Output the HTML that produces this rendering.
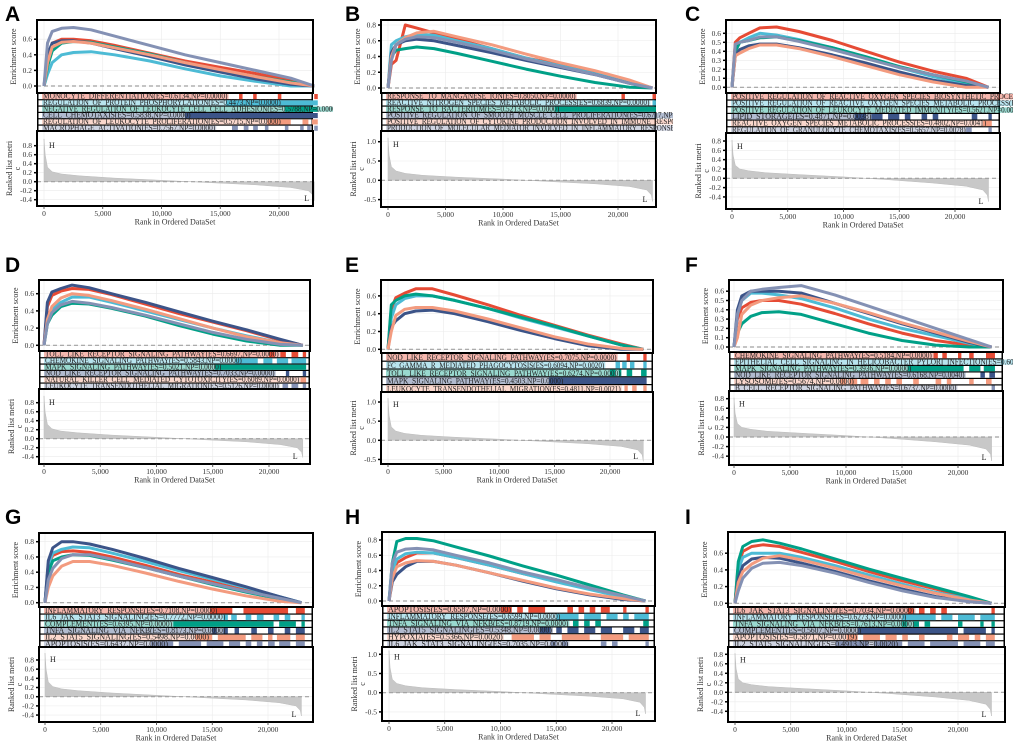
<!DOCTYPE html>
<html><head><meta charset="utf-8">
<style>
html,body{margin:0;padding:0;background:#fff;}
svg{display:block;}
text{font-family:"Liberation Serif",serif;}
</style></head>
<body>
<svg id="fig" width="1020" height="745" viewBox="0 0 1020 745" xmlns="http://www.w3.org/2000/svg"></svg>
<script>
// ---------- DATA ----------
const ranks = [0,300,700,1500,2500,4000,6000,9000,12000,15000,18000,21000,23000];
const metricRanks = [0,100,300,700,1500,3000,6000,10000,14000,18000,21000,22500,22900,23000];
const metricA = [0.95,0.6,0.32,0.22,0.17,0.13,0.08,0.03,-0.02,-0.07,-0.13,-0.2,-0.3,-0.42];
const metricB = [1.1,0.65,0.35,0.24,0.18,0.13,0.08,0.03,-0.03,-0.09,-0.16,-0.25,-0.38,-0.55];
const metricC = [0.82,0.5,0.28,0.2,0.16,0.12,0.08,0.03,-0.03,-0.1,-0.17,-0.25,-0.36,-0.5];
const xTicks = [0,5000,10000,15000,20000];
const xTickLabels = ["0","5,000","10,000","15,000","20,000"];
const palette = ["#e64b35","#4dbbd5","#00a087","#3c5488","#f39b7f","#8491b4"];

const esA = [
 [0,0.3,0.55,0.6,0.6,0.58,0.52,0.42,0.32,0.24,0.16,0.07,0],
 [0,0.15,0.3,0.4,0.43,0.44,0.4,0.32,0.22,0.13,0.06,0.0,0],
 [0,0.25,0.45,0.55,0.57,0.56,0.5,0.41,0.3,0.2,0.12,0.05,0],
 [0,0.4,0.55,0.58,0.58,0.55,0.48,0.38,0.27,0.18,0.09,0.02,0],
 [0,0.3,0.5,0.56,0.57,0.55,0.49,0.4,0.3,0.21,0.12,0.04,0],
 [0,0.55,0.7,0.74,0.75,0.72,0.64,0.52,0.4,0.3,0.2,0.1,0]];
const esB = [
 [0,0.3,0.35,0.8,0.76,0.7,0.62,0.5,0.38,0.3,0.2,0.08,0],
 [0,0.55,0.6,0.65,0.68,0.67,0.6,0.5,0.38,0.28,0.18,0.08,0],
 [0,0.4,0.48,0.5,0.52,0.5,0.44,0.34,0.24,0.15,0.07,0.01,0],
 [0,0.45,0.55,0.6,0.62,0.6,0.54,0.45,0.35,0.26,0.17,0.06,0],
 [0,0.4,0.55,0.64,0.7,0.72,0.65,0.55,0.43,0.32,0.22,0.1,0],
 [0,0.35,0.55,0.62,0.65,0.64,0.58,0.48,0.37,0.27,0.17,0.06,0]];
const esC = [
 [0,0.5,0.55,0.6,0.66,0.67,0.62,0.52,0.4,0.28,0.18,0.1,0],
 [0,0.45,0.5,0.55,0.6,0.58,0.53,0.44,0.33,0.22,0.12,0.04,0],
 [0,0.4,0.5,0.52,0.55,0.56,0.52,0.44,0.34,0.23,0.14,0.06,0],
 [0,0.35,0.42,0.46,0.48,0.48,0.44,0.36,0.27,0.17,0.08,0.02,0],
 [0,0.35,0.38,0.43,0.47,0.47,0.43,0.34,0.24,0.14,0.06,0.0,0],
 [0,0.48,0.5,0.52,0.56,0.56,0.51,0.42,0.32,0.22,0.14,0.07,0]];
const esD = [
 [0,0.45,0.58,0.63,0.66,0.65,0.59,0.48,0.37,0.27,0.17,0.06,0],
 [0,0.3,0.42,0.5,0.56,0.56,0.5,0.4,0.3,0.2,0.11,0.03,0],
 [0,0.25,0.35,0.45,0.49,0.48,0.43,0.34,0.23,0.13,0.05,0,0],
 [0,0.5,0.62,0.66,0.7,0.67,0.6,0.5,0.39,0.28,0.18,0.07,0],
 [0,0.3,0.45,0.55,0.6,0.58,0.52,0.42,0.31,0.2,0.1,0.03,0],
 [0,0.25,0.38,0.47,0.51,0.49,0.44,0.35,0.25,0.15,0.07,0.01,0]];
const esE = [
 [0,0.45,0.58,0.63,0.68,0.68,0.61,0.5,0.38,0.27,0.16,0.06,0],
 [0,0.35,0.5,0.57,0.6,0.6,0.55,0.46,0.35,0.25,0.15,0.05,0],
 [0,0.5,0.55,0.6,0.62,0.6,0.55,0.46,0.36,0.26,0.15,0.05,0],
 [0,0.25,0.32,0.4,0.43,0.44,0.4,0.31,0.21,0.12,0.04,0,0],
 [0,0.2,0.38,0.45,0.47,0.47,0.43,0.34,0.24,0.14,0.06,0.01,0]];
const esF = [
 [0,0.3,0.42,0.48,0.5,0.5,0.46,0.36,0.25,0.15,0.07,0.02,0],
 [0,0.35,0.5,0.58,0.58,0.56,0.52,0.42,0.3,0.2,0.12,0.04,0],
 [0,0.15,0.25,0.33,0.37,0.38,0.35,0.25,0.15,0.07,0.02,0,0],
 [0,0.4,0.55,0.6,0.6,0.6,0.58,0.47,0.36,0.25,0.15,0.05,0],
 [0,0.1,0.35,0.45,0.5,0.53,0.55,0.47,0.37,0.26,0.16,0.06,0],
 [0,0.35,0.5,0.6,0.62,0.64,0.66,0.56,0.44,0.32,0.2,0.08,0]];
const esG = [
 [0,0.5,0.62,0.67,0.68,0.66,0.6,0.49,0.37,0.27,0.16,0.06,0],
 [0,0.5,0.65,0.7,0.73,0.72,0.65,0.54,0.42,0.31,0.2,0.08,0],
 [0,0.4,0.55,0.6,0.63,0.62,0.56,0.46,0.35,0.24,0.14,0.05,0],
 [0,0.55,0.72,0.8,0.8,0.77,0.7,0.58,0.45,0.33,0.21,0.08,0],
 [0,0.2,0.35,0.48,0.54,0.54,0.49,0.39,0.28,0.18,0.09,0.02,0],
 [0,0.3,0.45,0.58,0.63,0.63,0.57,0.46,0.35,0.25,0.15,0.06,0]];
const esH = [
 [0,0.35,0.5,0.57,0.63,0.63,0.57,0.47,0.36,0.26,0.16,0.06,0],
 [0,0.4,0.55,0.62,0.64,0.63,0.57,0.47,0.36,0.25,0.15,0.05,0],
 [0,0.5,0.78,0.82,0.82,0.79,0.71,0.59,0.46,0.34,0.21,0.08,0],
 [0,0.25,0.35,0.45,0.52,0.52,0.47,0.37,0.26,0.16,0.08,0.02,0],
 [0,0.3,0.45,0.5,0.53,0.52,0.47,0.37,0.27,0.17,0.09,0.03,0],
 [0,0.5,0.64,0.68,0.69,0.67,0.6,0.5,0.38,0.28,0.17,0.07,0]];
const esI = [
 [0,0.45,0.62,0.68,0.7,0.68,0.61,0.5,0.38,0.27,0.17,0.07,0],
 [0,0.4,0.55,0.6,0.6,0.6,0.55,0.45,0.34,0.23,0.13,0.05,0],
 [0,0.5,0.68,0.74,0.76,0.72,0.65,0.53,0.41,0.3,0.19,0.08,0],
 [0,0.3,0.45,0.53,0.55,0.54,0.48,0.38,0.27,0.17,0.08,0.02,0],
 [0,0.25,0.38,0.47,0.54,0.57,0.52,0.42,0.31,0.21,0.12,0.04,0],
 [0,0.15,0.3,0.42,0.48,0.49,0.45,0.36,0.25,0.15,0.07,0.02,0]];

const namesA = ["MONOCYTE_DIFFERENTIATION(ES=0.6134,NP=0.0000)","REGULATION_OF_PROTEIN_PHOSPHORYLATION(ES=0.4473,NP=0.0000)","NEGATIVE_REGULATION_OF_LEUKOCYTE_CELL_CELL_ADHESION(ES=0.5788,NP=0.0000)","CELL_CHEMOTAXIS(ES=0.5838,NP=0.0000)","REGULATION_OF_LEUKOCYTE_PROLIFERATION(ES=0.5715,NP=0.0000)","MACROPHAGE_ACTIVATION(ES=0.7567,NP=0.0000)"];
const namesB = ["RESPONSE_TO_MANGANESE_ION(ES=0.8050,NP=0.0000)","REACTIVE_NITROGEN_SPECIES_METABOLIC_PROCESS(ES=0.6839,NP=0.0000)","RESPONSE_TO_BACTERIUM(ES=0.5213,NP=0.0000)","POSITIVE_REGULATION_OF_SMOOTH_MUSCLE_CELL_PROLIFERATION(ES=0.6717,NP=0.0000)","POSITIVE_REGULATION_OF_CYTOKINE_PRODUCTION_INVOLVED_IN_IMMUNE_RESPONSE(ES=0.7218,NP=0.0000)","PRODUCTION_OF_MOLECULAR_MEDIATOR_INVOLVED_IN_INFLAMMATORY_RESPONSE(ES=0.6602,NP=0.0000)"];
const namesC = ["POSITIVE_REGULATION_OF_REACTIVE_OXYGEN_SPECIES_BIOSYNTHETIC_PROCESS(ES=0.6712,NP=0.0000)","POSITIVE_REGULATION_OF_REACTIVE_OXYGEN_SPECIES_METABOLIC_PROCESS(ES=0.6031,NP=0.0000)","POSITIVE_REGULATION_OF_LEUKOCYTE_MEDIATED_IMMUNITY(ES=0.5621,NP=0.0000)","LIPID_STORAGE(ES=0.4871,NP=0.0038)","REACTIVE_OXYGEN_SPECIES_METABOLIC_PROCESS(ES=0.4802,NP=0.0041)","REGULATION_OF_GRANULOCYTE_CHEMOTAXIS(ES=0.5657,NP=0.0078)"];
const namesD = ["TOLL_LIKE_RECEPTOR_SIGNALING_PATHWAY(ES=0.6697,NP=0.0000)","CHEMOKINE_SIGNALING_PATHWAY(ES=0.5843,NP=0.0000)","MAPK_SIGNALING_PATHWAY(ES=0.5021,NP=0.0000)","NOD_LIKE_RECEPTOR_SIGNALING_PATHWAY(ES=0.7033,NP=0.0000)","NATURAL_KILLER_CELL_MEDIATED_CYTOTOXICITY(ES=0.6089,NP=0.0000)","LEUKOCYTE_TRANSENDOTHELIAL_MIGRATION(ES=0.5126,NP=0.0000)"];
const namesE = ["NOD_LIKE_RECEPTOR_SIGNALING_PATHWAY(ES=0.7075,NP=0.0000)","FC_GAMMA_R_MEDIATED_PHAGOCYTOSIS(ES=0.6094,NP=0.0020)","TOLL_LIKE_RECEPTOR_SIGNALING_PATHWAY(ES=0.6274,NP=0.0000)","MAPK_SIGNALING_PATHWAY(ES=0.4503,NP=0.0000)","LEUKOCYTE_TRANSENDOTHELIAL_MIGRATION(ES=0.4811,NP=0.0021)"];
const namesF = ["CHEMOKINE_SIGNALING_PATHWAY(ES=0.5184,NP=0.0000)","EPITHELIAL_CELL_SIGNALING_IN_HELICOBACTER_PYLORI_INFECTION(ES=0.6050,NP=0.0000)","MAPK_SIGNALING_PATHWAY(ES=0.3936,NP=0.0000)","NOD_LIKE_RECEPTOR_SIGNALING_PATHWAY(ES=0.6168,NP=0.0040)","LYSOSOME(ES=0.5674,NP=0.0000)","B_CELL_RECEPTOR_SIGNALING_PATHWAY(ES=0.6737,NP=0.0000)"];
const namesG = ["INFLAMMATORY_RESPONSE(ES=0.7108,NP=0.0000)","IL6_JAK_STAT3_SIGNALING(ES=0.7772,NP=0.0000)","COMPLEMENT(ES=0.6395,NP=0.0000)","TNFA_SIGNALING_VIA_NFKB(ES=0.8173,NP=0.0000)","IL2_STAT5_SIGNALING(ES=0.5498,NP=0.0000)","APOPTOSIS(ES=0.6437,NP=0.0000)"];
const namesH = ["APOPTOSIS(ES=0.6587,NP=0.0000)","INFLAMMATORY_RESPONSE(ES=0.6599,NP=0.0000)","TNFA_SIGNALING_VIA_NFKB(ES=0.8719,NP=0.0000)","IL2_STAT5_SIGNALING(ES=0.5348,NP=0.0000)","HYPOXIA(ES=0.5366,NP=0.0020)","IL6_JAK_STAT3_SIGNALING(ES=0.7035,NP=0.0000)"];
const namesI = ["IL6_JAK_STAT3_SIGNALING(ES=0.7034,NP=0.0000)","INFLAMMATORY_RESPONSE(ES=0.6273,NP=0.0000)","TNFA_SIGNALING_VIA_NFKB(ES=0.7613,NP=0.0000)","COMPLEMENT(ES=0.5607,NP=0.0000)","APOPTOSIS(ES=0.5871,NP=0.0019)","IL2_STAT5_SIGNALING(ES=0.4913,NP=0.0020)"];

// gene-hit ranges (thousands of ranks)
const hitsA = [[[16.6,16.9],[17.8,18.1],[19.9,20.2],[23,23.3]],[[15.5,23.3]],[[20.5,23.3]],[[12,23.3]],[[19,21],[22,22.5],[22.8,23.3]],[[16,16.5],[17,17.4],[17.8,18.2],[18.8,19.1],[20.5,20.8],[21.8,22.1],[22.4,22.7],[23,23.3]]];
const hitsB = [[[20.3,20.6],[23,23.3]],[[23,23.3]],[[14.5,23.3]],[],[],[]];
const hitsC = [[],[],[],[[11,12],[12.5,13.5],[14,15],[15.5,16],[17,17.5],[18,18.5],[21.5,22],[23,23.3]],[[22.5,23.3]],[[21,21.5],[23,23.3]]];
const hitsD = [[[20,20.5],[21,21.5],[22,22.6],[23,23.3]],[[17,19],[19.5,20.3],[20.7,21.7],[22,23.3]],[[15.2,23.3]],[[21.5,21.8],[23,23.3]],[[22.8,23.3]],[[21.2,21.7],[22,22.6],[23,23.3]]];
const hitsE = [[[21.5,21.8],[23,23.3]],[[20.5,20.9],[21.1,21.5],[21.8,22.2],[23,23.3]],[[20,20.5],[20.8,21],[21.5,22],[22.8,23.3]],[[14.5,23.3]],[[21.3,21.6],[22,22.4],[23,23.3]]];
const hitsF = [[[17.8,18.2],[18.6,19],[20,20.3],[21,21.4],[22.5,23.3]],[],[[15.5,20.5],[21,22],[22.3,23.3]],[[22,22.4],[22.8,23.3]],[[9.5,10],[10.3,11],[11.3,12],[12.5,13],[13.5,14],[14.5,15],[16,16.5],[18,18.5],[19,19.4],[21,21.4],[22.5,23]],[[23,23.3]]];
const hitsG = [[[14.8,16.8],[17.8,21.8],[22.5,23.3]],[[16,16.4],[16.7,17.2],[18,18.5],[19,19.6],[20.5,21],[21.5,22],[23,23.3]],[[11.5,20.5],[21,22.5],[23,23.3]],[[15,15.4],[16,16.4],[17,17.4],[18.5,19],[20,20.5],[21.5,22],[22.5,23.3]],[[13.5,15],[15.5,18],[18.5,19.5],[20,20.4],[20.8,22],[22.5,23.3]],[[9.5,11.5],[12,14],[14.5,16],[16.5,17.5],[18,18.5],[19,19.5],[20,20.6],[21,22],[22.5,23.3]]];
const hitsH = [[[10,11],[11.5,12],[12.5,14],[16,16.5],[17,17.5],[18,18.5],[19,19.8],[21,21.3],[23,23.3]],[[15,17],[17.5,19],[19.5,20.5],[21,21.5],[22,23.3]],[[16.5,17],[17.5,18],[18.5,19],[22.8,23.3]],[[13.5,14.5],[15,15.5],[16,17],[17.5,18.5],[19,20],[21,22],[22.5,23.3]],[[11,13],[13.5,14.5],[15.5,18],[19,21],[21.5,23.3]],[[14.5,15],[15.5,16],[19,19.5],[20,20.5],[23,23.3]]];
const hitsI = [[[15.5,16],[16.5,17],[17.5,18],[18.5,19],[23,23.3]],[[15,18],[18.5,19.5],[20,21.5],[22,23.3]],[[15,15.4],[16,16.5],[17,17.5],[20,20.4],[22,22.3],[23,23.3]],[[11,20],[20.5,22.5],[23,23.3]],[[10,11],[11.5,13],[13.5,14.5],[15,15.5],[16.5,17],[19,19.5],[20,21],[21.5,22],[22.5,23.3]],[[9,12],[12.5,15],[15.5,17],[17.5,20],[20.5,22],[22.5,23.3]]];

const ticksTopA = [0,0.2,0.4,0.6];
const ticksTopB = [0,0.2,0.4,0.6,0.8];
const ticksTopC = [0,0.1,0.2,0.3,0.4,0.5,0.6];
const ticksBotA = [-0.4,-0.2,0,0.2,0.4,0.6,0.8];
const ticksBotB = [-0.5,0,0.5,1.0];

// ---------- LAYOUT ----------
const panels = [
 {id:"A",ox:0,oy:0,ly:21,L:37,R:313,t0:20,t1:93,s1:131,b1:206,x0:44,x20:279,tz:86,tp:78,tt:ticksTopA,bz:181.7,bp:45,bt:ticksBotA,m:metricA,es:esA,nm:namesA,hit:hitsA},
 {id:"B",ox:340,oy:0,ly:21,L:381,R:656,t0:20,t1:93,s1:131,b1:207,x0:388,x20:618,tz:88,tp:78.75,tt:ticksTopB,bz:180.3,bp:38.6,bt:ticksBotB,m:metricB,es:esB,nm:namesB,hit:hitsB},
 {id:"C",ox:680,oy:0,ly:21,L:726,R:1000,t0:20,t1:93,s1:133,b1:209,x0:732,x20:955,tz:87.3,tp:90,tt:ticksTopC,bz:178.3,bp:46.6,bt:ticksBotA,m:metricC,es:esC,nm:namesC,hit:hitsC},
 {id:"D",ox:0,oy:252,ly:272,L:39,R:310,t0:280,t1:351,s1:389,b1:464,x0:44,x20:269,tz:345.3,tp:86,tt:ticksTopA,bz:438.7,bp:45,bt:ticksBotA,m:metricA,es:esD,nm:namesD,hit:hitsD},
 {id:"E",ox:340,oy:252,ly:272,L:381,R:653,t0:280,t1:353,s1:392,b1:464,x0:388,x20:610,tz:349.3,tp:89,tt:ticksTopA,bz:440.3,bp:38.3,bt:ticksBotB,m:metricB,es:esE,nm:namesE,hit:hitsE},
 {id:"F",ox:680,oy:252,ly:272,L:729,R:1003,t0:280,t1:352,s1:391,b1:465,x0:734,x20:958,tz:347,tp:93,tt:ticksTopC,bz:437,bp:47.9,bt:ticksBotA,m:metricC,es:esF,nm:namesF,hit:hitsF},
 {id:"G",ox:0,oy:500,ly:524,L:39,R:313,t0:533,t1:607,s1:647,b1:722,x0:45,x20:268,tz:602.7,tp:76.25,tt:ticksTopB,bz:696.7,bp:45.9,bt:ticksBotA,m:metricA,es:esG,nm:namesG,hit:hitsG},
 {id:"H",ox:340,oy:500,ly:524,L:382,R:655,t0:532,t1:606,s1:647,b1:721,x0:389,x20:612,tz:601,tp:76.25,tt:ticksTopB,bz:692.7,bp:38.4,bt:ticksBotB,m:metricB,es:esH,nm:namesH,hit:hitsH},
 {id:"I",ox:680,oy:500,ly:524,L:728,R:1005,t0:532,t1:607,s1:647,b1:722,x0:735,x20:958,tz:603.3,tp:83.5,tt:ticksTopA,bz:692.3,bp:47.5,bt:ticksBotA,m:metricC,es:esI,nm:namesI,hit:hitsI}
];

const NS="http://www.w3.org/2000/svg";
const svg=document.getElementById("fig");
function mk(tag,attrs,parent){const e=document.createElementNS(NS,tag);for(const k in attrs)e.setAttribute(k,attrs[k]);(parent||svg).appendChild(e);return e;}
function fmt(v){const s=Math.abs(v).toFixed(1);return (v<-1e-9?"-":"")+s;}

panels.forEach((p,pi)=>{
  const g=mk("g",{});
  
  
  const xs=r=>p.x0+(r/20000)*(p.x20-p.x0);
  const yt=v=>p.tz-v*p.tp;
  const yb=v=>p.bz-v*p.bp;
  const lt=mk("text",{x:p.ox+5,y:p.ly,"font-weight":"bold","font-size":"21"},g);
  lt.style.fontFamily='"Liberation Sans",sans-serif';
  lt.textContent=p.id;
  
  
  mk("rect",{x:p.L,y:p.t0,width:p.R-p.L,height:p.t1-p.t0,fill:"#fff"},g);
  xTicks.forEach(t=>{mk("line",{x1:xs(t),x2:xs(t),y1:p.t0,y2:p.t1,stroke:"#ebebeb","stroke-width":0.6},g);
                     mk("line",{x1:xs(t),x2:xs(t),y1:p.s1,y2:p.b1,stroke:"#ebebeb","stroke-width":0.6},g);});
  p.tt.forEach(t=>{mk("line",{x1:p.L,x2:p.R,y1:yt(t),y2:yt(t),stroke:"#ebebeb","stroke-width":0.6},g);
    const tl=mk("text",{x:p.L-5,y:yt(t)+2.5,"font-size":"7.5","text-anchor":"end",fill:"#333"},g);tl.textContent=fmt(t);
    
    
    mk("line",{x1:p.L-3,x2:p.L,y1:yt(t),y2:yt(t),stroke:"#000","stroke-width":1.5},g);});
  mk("line",{x1:p.L,x2:p.R,y1:yt(0),y2:yt(0),stroke:"#a0a0a0","stroke-width":1.2,"stroke-dasharray":"4,3"},g);
  p.es.forEach((vals,si)=>{
    const d=vals.map((v,i)=>(i?"L":"M")+xs(ranks[i]).toFixed(1)+","+yt(v).toFixed(1)).join("");
    const pl=mk("path",{d:d,fill:"none",stroke:palette[si],"stroke-width":3,"stroke-linejoin":"round"},g);
    
    
  });
  mk("rect",{x:p.L,y:p.t0,width:p.R-p.L,height:p.t1-p.t0,fill:"none",stroke:"#000","stroke-width":2},g);
  const yl=mk("text",{x:0,y:0,"font-size":"8",fill:"#333","text-anchor":"middle",transform:`translate(${p.L-21},${(p.t0+p.t1)/2}) rotate(-90)`},g);
  yl.textContent="Enrichment score";
  
  
  const n=p.nm.length, sh=(p.s1-p.t1)/n;
  const cid="clip"+p.id;
  const cp=mk("clipPath",{id:cid},svg);mk("rect",{x:p.L,y:p.t1,width:(p.ox+333)-p.L,height:p.s1-p.t1},cp);
  const sg=mk("g",{"clip-path":`url(#${cid})`},g);
  mk("rect",{x:p.L,y:p.t1,width:p.R-p.L,height:p.s1-p.t1,fill:"#000"},sg);
  p.nm.forEach((name,si)=>{
    const y=p.t1+si*sh;
    mk("rect",{x:p.L+1.5,y:y+1,width:p.R-p.L-3,height:sh-1.2,fill:"#fff"},sg);
    p.hit[si].forEach(h=>{mk("rect",{x:xs(h[0]*1000),y:y+1,width:Math.max(1.5,xs(h[1]*1000)-xs(h[0]*1000)),height:sh-1.2,fill:palette[si]},sg);});
    const w=name.length*4.1;
    mk("rect",{x:p.L+5,y:y+1,width:w+2,height:sh-1.2,fill:palette[si],"fill-opacity":0.4},sg);
    const st=mk("text",{x:p.L+6,y:y+sh-0.6,"font-size":"8.5",fill:"#222",textLength:w,lengthAdjust:"spacingAndGlyphs"},sg);
    st.textContent=name;
    
    
  });
  p.bt.forEach(t=>{mk("line",{x1:p.L,x2:p.R,y1:yb(t),y2:yb(t),stroke:"#ebebeb","stroke-width":0.6},g);
    const tl=mk("text",{x:p.L-5,y:yb(t)+2.5,"font-size":"7.5","text-anchor":"end",fill:"#333"},g);tl.textContent=fmt(t);
    
    
    mk("line",{x1:p.L-3,x2:p.L,y1:yb(t),y2:yb(t),stroke:"#000","stroke-width":1.5},g);});
  let ad="M"+xs(0)+","+yb(0);
  p.m.forEach((v,i)=>{ad+="L"+xs(metricRanks[i]).toFixed(1)+","+yb(v).toFixed(1);});
  ad+="L"+xs(metricRanks[metricRanks.length-1]).toFixed(1)+","+yb(0)+"Z";
  const ar=mk("path",{d:ad,fill:"#c8c8c8",stroke:"#bdbdbd","stroke-width":0.5},g);
  
  
  mk("line",{x1:p.L,x2:p.R,y1:yb(0),y2:yb(0),stroke:"#a0a0a0","stroke-width":1.2,"stroke-dasharray":"4,3"},g);
  const hT=mk("text",{x:xs(0)+5,y:yb(p.m[0])+9,"font-size":"8",fill:"#222"},g);hT.textContent="H";
  
  
  const lT=mk("text",{x:xs(metricRanks[metricRanks.length-1])-10,y:p.b1-5,"font-size":"8",fill:"#222"},g);lT.textContent="L";
  
  
  mk("rect",{x:p.L,y:p.s1,width:p.R-p.L,height:p.b1-p.s1,fill:"none",stroke:"#000","stroke-width":2},g);
  const by=(p.s1+p.b1)/2;
  const r1=mk("text",{x:0,y:0,"font-size":"8",fill:"#333","text-anchor":"middle",transform:`translate(${p.L-25},${by}) rotate(-90)`},g);r1.textContent="Ranked list metri";
  
  
  const r2=mk("text",{x:0,y:0,"font-size":"8",fill:"#333","text-anchor":"middle",transform:`translate(${p.L-17},${by}) rotate(-90)`},g);r2.textContent="c";
  xTicks.forEach((t,i)=>{mk("line",{x1:xs(t),x2:xs(t),y1:p.b1,y2:p.b1+3,stroke:"#333","stroke-width":0.8},g);
    const xl=mk("text",{x:xs(t),y:p.b1+10,"font-size":"7.5","text-anchor":"middle",fill:"#333"},g);xl.textContent=xTickLabels[i];
    
    });
  const xt=mk("text",{x:(p.L+p.R)/2,y:p.b1+18.5,"font-size":"8","text-anchor":"middle",fill:"#333"},g);
  xt.textContent="Rank in Ordered DataSet";
  
  
});
</script>
</body></html>
